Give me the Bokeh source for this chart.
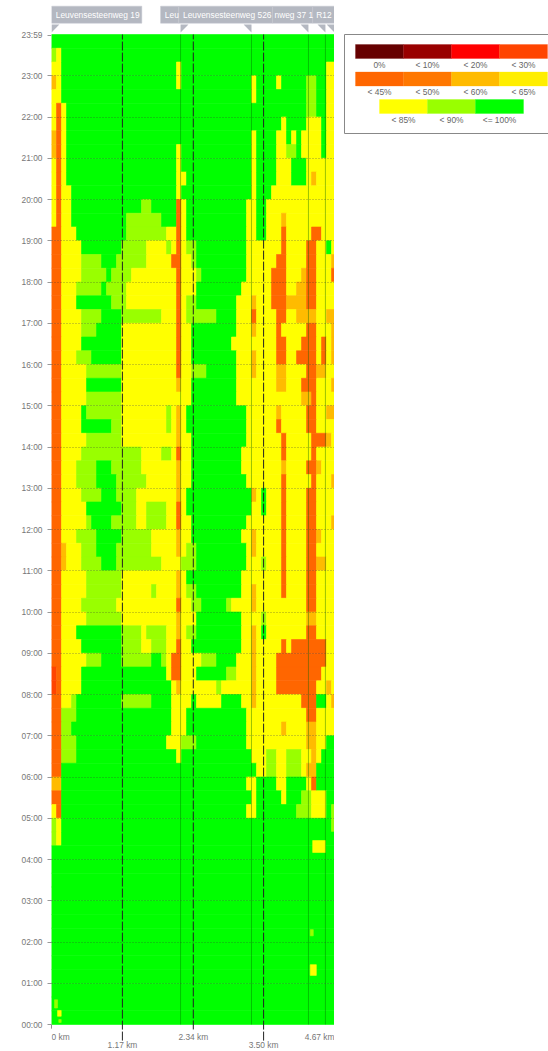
from bokeh.plotting import figure
from bokeh.layouts import row
from bokeh.models import ColumnDataSource, FixedTicker
from bokeh.core.properties import value
from bokeh.embed import file_html
from bokeh.resources import INLINE

FONT = "Liberation Sans"
legend_labels = [["0%", "< 10%", "< 20%", "< 30%"], ["< 45%", "< 50%", "< 60%", "< 65%"], ["< 85%", "< 90%", "<= 100%"]]
legend_colors = [["#660000", "#990000", "#ff0000", "#ff4400"], ["#ff6600", "#ff7700", "#ffbb00", "#ffee00"], ["#ffff00", "#99ff00", "#00ff00"]]
code_percent = {"r": 30, "o": 45, "a": 60, "y": 85, "l": 90, "g": 100}
percent_color = {30: "#ff4400", 45: "#ff6600", 60: "#ffbb00", 85: "#ffff00", 90: "#99ff00", 100: "#00ff00"}

# speed classes per 20-minute row, from 23:59 downward: class letter + end column of the run
speed_rows = [
 "g57",
 "l1 y2 g57",
 "y2 g25 y26 g55 y57",
 "a1 y2 g25 y26 g40 y41 g45 y46 g51 l53 g55 y57",
 "y2 g40 y41 g51 l53 g55 y57",
 "y1 o2 y3 g51 l53 g55 y57",
 "y1 o2 y3 g46 y47 g51 y54 g55 y57",
 "a1 o2 y3 g40 y41 g45 y47 g48 y49 g50 y54 g55 y57",
 "a1 o2 y3 g25 y26 g40 y41 g45 y47 l49 g50 y54 g55 y57",
 "y1 o2 y3 g25 y26 g40 y41 g45 y48 g51 y57",
 "y1 o2 y3 g25 y27 g40 y41 g45 y48 g51 y52 a53 y57",
 "y1 o2 y4 g25 y26 g40 y41 g44 y57",
 "y1 o2 y4 g18 l20 g25 o26 y27 g39 y41 g43 y57",
 "y1 o2 y4 g15 l22 g25 o26 y27 g39 y41 g43 y46 a47 y57",
 "o2 y5 g15 l23 y25 o26 y27 g39 y41 g43 y46 o47 y52 o54 y57",
 "o2 y6 g14 l19 y23 l24 y25 o26 y27 l29 g39 y46 o47 y51 o53 y55 g56 y57",
 "o2 y6 l10 g13 l19 y24 o26 y28 l29 g39 y45 o47 y51 o53 y56 a57",
 "o2 y6 l11 g12 l16 y25 o26 y29 l30 g39 y44 o47 y50 a51 o53 y56 o57",
 "o2 y5 l10 g11 l15 y25 o26 y29 g38 y44 o47 y49 a51 o53 y57",
 "o2 y5 g12 l15 y25 o26 y27 l29 g37 y40 a41 y44 o47 a51 o53 y57",
 "o2 y6 l10 g14 l22 y25 o26 y27 l33 g37 y40 o41 y45 o47 y49 a53 y55 a57",
 "o2 y6 l9 g14 y25 o26 y28 g37 y40 a41 y45 o46 y51 o53 y56 a57",
 "o2 y6 g14 y25 o26 y28 g36 y45 o47 y50 o53 y54 o55 y56 a57",
 "o2 y5 l8 g14 y25 o26 y28 g37 y40 a41 y45 o47 y49 o53 y54 o55 y56 a57",
 "o2 y7 l14 y25 o26 y28 l31 g37 y40 a41 y45 a47 y51 o53 a55 y57",
 "o2 y7 g14 y25 a26 y28 g37 y45 a47 y50 o53 y56 a57",
 "o2 y7 l14 y28 g37 y50 a52 o53 y57",
 "o2 y6 g7 l14 y23 l24 y25 a26 y27 g39 y45 a46 y51 o53 y55 a57",
 "o2 y6 g12 l14 y23 l24 y25 a26 y27 g39 y45 o46 y51 o53 y57",
 "o2 y7 l14 y25 a26 y28 g39 y46 o47 y52 o55 a56 y57",
 "o2 y6 l18 y22 l24 y25 o26 y28 g38 y46 o47 y52 o53 y57",
 "o2 y5 l9 g12 l18 y25 a26 y28 g38 y46 a47 y51 o53 a54 y57",
 "o2 y5 l9 g13 l19 y25 a26 y28 g39 y46 o47 y52 o53 y56 a57",
 "o2 y6 l10 g13 l17 y25 a26 y27 g40 a41 y42 g43 y46 o47 y51 o53 y57",
 "o2 y7 g14 l17 y19 l23 y25 o26 y27 g40 y42 g43 y46 o47 y51 o53 y57",
 "o2 y7 l8 g12 l17 y19 l23 y25 o26 y28 g39 y46 o47 y51 o53 y56 a57",
 "o2 y5 l9 g14 l20 y25 a26 y28 g38 y40 a41 y46 o47 y51 o53 a54 y57",
 "o2 a3 y6 l9 g13 l20 y25 a26 y27 l29 g39 y40 a41 y46 o47 y51 o53 y57",
 "o2 a3 y6 l10 g13 l22 y26 l29 g39 y42 l43 y46 o47 y51 o53 a55 y57",
 "o2 y7 l14 y25 a26 y27 g38 y46 o47 y51 o53 y57",
 "o2 y7 l14 y20 l21 y25 a26 y27 l29 g38 y40 a41 y46 o47 y51 o53 y57",
 "o2 y6 l13 y25 o26 y28 l30 g35 l36 y40 a41 y51 o53 y57",
 "o2 y7 l14 y25 a26 y29 g38 y42 l43 y51 a53 y57",
 "o2 y5 g14 l18 y19 l23 y25 a26 y27 l29 g38 y40 a41 y42 g43 y51 o53 y57",
 "o2 y6 g14 l18 y20 l23 y25 o26 y28 g38 y40 a41 y46 o47 y48 o55 y57",
 "o2 y7 l10 g14 l20 g22 l23 y24 o26 y30 l33 g37 y40 a41 y45 o55 y57",
 "r1 o2 y6 g23 y24 o26 y29 g35 l37 y40 a41 y45 o54 y57",
 "r1 o2 y6 g24 y25 a26 y33 l34 y40 a41 y45 o53 y55 a56 y57",
 "o2 y4 l5 g14 l20 g24 y28 g29 y34 g38 y40 a41 y50 o53 g55 y56 a57",
 "o2 l5 g24 y27 g39 y51 o53 y57",
 "o2 l4 g24 y27 g39 y46 a47 y51 a53 y57",
 "o2 l5 g23 y26 l29 g39 y51 a53 y55 g57",
 "o2 l5 g25 y26 g40 y43 l45 y47 l50 y52 a53 y54 g57",
 "o2 g41 y43 l45 y47 l50 y51 a53 g57",
 "a2 g39 y41 g45 y47 g51 y52 o53 g57",
 "o2 g40 y41 g46 y47 g50 l52 y55 g57",
 "y1 o2 g39 y41 g49 l52 y55 g56 l57",
 "l1 y2 g56 l57",
 "l1 y2 g57",
] + ["g57"] * 13

spot_km_start = [4.31, 4.27, 4.27, 0.05, 0.10, 0.12]
spot_km_end = [4.52, 4.37, 4.32, 0.10, 0.16, 0.16]
spot_hour_start = [4.17, 1.19, 2.15, 0.40, 0.20, 0.05]
spot_hour_end = [4.46, 1.45, 2.30, 0.60, 0.34, 0.12]
spot_code = ["y", "y", "l", "l", "y", "l"]

hour_ticks = list(range(24)) + [23.983]
hour_labels = {h: f"{h:02d}:00" for h in range(24)}
km_ticks = [0, 1.17, 2.34, 3.50, 4.67]
km_labels = ["0 km", "1.17 km", "2.34 km", "3.50 km", "4.67 km"]
km_aligns = ["left", "center", "center", "center", "right"]
km_label_hour = [-0.315, -0.5, -0.315, -0.5, -0.315]
km_tick_hour = [-0.1, -0.39, -0.12, -0.39, -0.1]

landmark_km = [2.13, 3.30, 4.24, 4.52]
road_names = ["Leuvensesteenweg 19", "Leu", "Leuvensesteenweg 526", "nweg 37 1", "R12"]
road_start_km = [0, 1.80, 2.10, 3.65, 4.31]
road_end_km = [1.49, 2.10, 3.65, 4.31, 4.67]
road_text_km = [0.07, 1.87, 2.17, 3.68, 4.37]
flag_km = [0, 2.13, 3.30, 4.24, 4.52, 4.67]
flag_side = [1, 1, -1, -1, -1, -1]

CELL_KM = 4.67 / 56.6
ROW_H = 24 / 72
xs0, xs1, ys0, ys1, cols, pcts = [], [], [], [], [], []
for i, line in enumerate(speed_rows):
    start = 0
    for run in line.split():
        code, end = run[0], int(run[1:])
        xs0.append(start * CELL_KM)
        xs1.append(min(end * CELL_KM, 4.67))
        ys1.append(24 - i * ROW_H)
        ys0.append(24 - (i + 1) * ROW_H)
        pcts.append(code_percent[code])
        cols.append(percent_color[code_percent[code]])
        start = end
for a, b, c, d, code in zip(spot_km_start, spot_km_end, spot_hour_start, spot_hour_end, spot_code):
    xs0.append(a); xs1.append(b); ys0.append(c); ys1.append(d)
    pcts.append(code_percent[code]); cols.append(percent_color[code_percent[code]])

p = figure(width=334, height=1051, x_range=(0, 4.67), y_range=(-27 / 41.25, 1024 / 41.25),
           min_border_left=51, min_border_right=0, min_border_top=0, min_border_bottom=0,
           output_backend="svg", toolbar_location=None, outline_line_color=None)
p.background_fill_color = "#ffffff"
p.quad(left="l", right="r", bottom="b", top="t", color="c", line_color="c", line_width=0.6,
       source=ColumnDataSource(dict(l=xs0, r=xs1, b=ys0, t=ys1, c=cols, p=pcts)))

# landmark + distance lines
p.segment(x0=landmark_km, x1=landmark_km, y0=[0] * 4, y1=[24] * 4, line_color="#006600", line_alpha=0.4, line_width=1)
p.segment(x0=km_ticks, x1=km_ticks, y0=km_tick_hour, y1=[0, 24, 24, 24, 0], line_color="#222222", line_width=1, line_dash="9 2")

# road header
p.quad(left=road_start_km, right=road_end_km, bottom=[24.274] * 5, top=[24.686] * 5, fill_color="#b4b8c1", line_color="#c4c7ce", line_width=0.5)
p.text(x=road_text_km, y=[24.48] * 5, text=road_names,
       text_font=value(FONT), text_font_size="8.4px", text_color="#ffffff", text_baseline="middle")
p.patches(xs=[[k, k + s * 0.13, k] for k, s in zip(flag_km, flag_side)], ys=[[24.05, 24.24, 24.24]] * 6,
          fill_color="#b4b8c1", line_color=None)
p.text(x=km_ticks, y=km_label_hour, text=km_labels, text_align=km_aligns, text_baseline="middle",
       text_font=value(FONT), text_font_size="8.4px", text_color="#777777")

p.xgrid.visible = False
p.xaxis.visible = False
p.ygrid.ticker = FixedTicker(ticks=list(range(1, 24)))
p.ygrid.level = "overlay"
p.ygrid.grid_line_color = "#333333"
p.ygrid.grid_line_alpha = 0.5
p.ygrid.grid_line_dash = "1 2"

p.yaxis.ticker = FixedTicker(ticks=hour_ticks)
p.yaxis.major_label_overrides = {**hour_labels, 23.983: "23:59"}
p.yaxis.axis_line_color = None
p.yaxis.major_tick_line_color = "#999999"
p.yaxis.major_tick_out = 4
p.yaxis.major_tick_in = 0
p.yaxis.minor_tick_line_color = None
p.yaxis.major_label_text_font = FONT
p.yaxis.major_label_text_font_size = "8.4px"
p.yaxis.major_label_text_color = "#777777"
p.yaxis.major_label_standoff = 5

# legend panel: its own small figure beside the chart
SW = 48
RH = 27.5
leg_w, leg_h = 214, 140
lx0 = -21 / SW
lg = figure(width=leg_w, height=leg_h, x_range=(lx0, lx0 + leg_w / SW), y_range=(leg_h / RH, 0),
            output_backend="svg", toolbar_location=None, outline_line_color=None,
            min_border=0, x_axis_type=None, y_axis_type=None)
lg.xgrid.visible = False
lg.ygrid.visible = False
for r, (labs, cs) in enumerate(zip(legend_labels, legend_colors)):
    off = 0.5 if r == 2 else 0
    x = [off + i + 0.5 for i in range(len(labs))]
    top = 44 / RH + r
    lg.rect(x=x, y=[top + 7 / RH] * len(labs), width=1, height=14 / RH, color=cs, line_color=cs, line_width=0.3)
    lg.text(x=x, y=[top + 20 / RH] * len(labs), text=labs, text_align="center", text_baseline="middle",
            text_font=value(FONT), text_font_size="8.4px", text_color="#666666")
lg.quad(left=[-11 / SW], right=[6], top=[34 / RH], bottom=[133 / RH], fill_color=None, line_color="#888888", line_width=1)

open("out.html", "w").write(file_html(row(p, lg, spacing=0), INLINE))
